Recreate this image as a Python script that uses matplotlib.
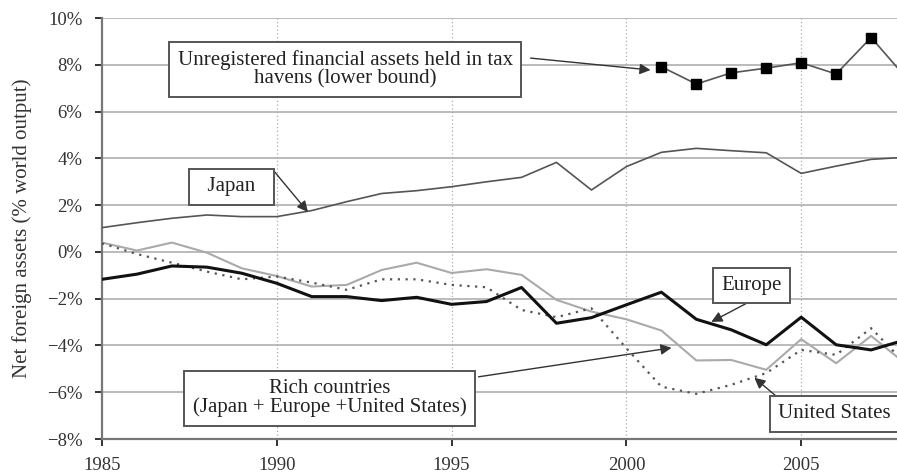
import matplotlib.pyplot as plt

years = list(range(1985, 2009))

japan = [1.04, 1.25, 1.44, 1.58, 1.51, 1.51, 1.77, 2.15, 2.50, 2.62, 2.79, 3.00,
         3.19, 3.83, 2.65, 3.65, 4.26, 4.43, 4.33, 4.24, 3.36, 3.67, 3.96, 4.05]
europe = [-1.17, -0.95, -0.60, -0.65, -0.91, -1.34, -1.91, -1.91, -2.08, -1.94, -2.24, -2.12,
          -1.52, -3.05, -2.81, -2.26, -1.72, -2.88, -3.33, -3.97, -2.79, -3.97, -4.19, -3.75]
rich = [0.40, 0.06, 0.40, -0.03, -0.70, -1.03, -1.48, -1.41, -0.77, -0.46, -0.90, -0.74,
        -0.98, -2.05, -2.55, -2.88, -3.36, -4.64, -4.62, -5.04, -3.73, -4.76, -3.59, -4.80]
usa = [0.37, -0.09, -0.46, -0.84, -1.17, -1.05, -1.31, -1.62, -1.17, -1.17, -1.41, -1.51,
       -2.48, -2.79, -2.41, -4.12, -5.76, -6.07, -5.68, -5.18, -4.19, -4.40, -3.26, -4.80]

haven_years = list(range(2001, 2009))
havens = [7.92, 7.18, 7.66, 7.86, 8.09, 7.61, 9.17, 7.45]

plt.rcParams['font.family'] = ['Liberation Serif', 'DejaVu Serif']

fig = plt.figure(figsize=(8.97, 4.74), dpi=100)
ax = fig.add_axes([0.1137, 0.0738, 0.8863, 0.888])

ax.plot(years, rich, color='#aaaaaa', lw=1.5, zorder=3)
ax.plot(years, usa, color='#555555', lw=1.6, ls=(0, (1, 2.5)), zorder=3)
ax.plot(years, japan, color='#555555', lw=1.2, zorder=3)
ax.plot(years, europe, color='#111111', lw=2.2, zorder=4)
ax.plot(haven_years, havens, color='#555555', lw=1.2, marker='s', ms=7,
        mfc='black', mec='black', zorder=4)

ax.set_xlim(1985, 2007.74)
ax.set_ylim(-8, 10)
ax.set_xticks([1985, 1990, 1995, 2000, 2005])
ax.set_yticks(range(-8, 11, 2))
ax.set_yticklabels(['%d%%' % v if v >= 0 else '\u2212%d%%' % -v for v in range(-8, 11, 2)])
ax.tick_params(labelsize=13.5, colors='#333333', length=5, width=1.4)
ax.tick_params(axis='y', pad=9)
ax.tick_params(axis='x', pad=8)

for v in range(-6, 11, 2):
    ax.axhline(v, color='#bbbbbb', lw=1.4, zorder=1)
for yr in [1990, 1995, 2000, 2005]:
    ax.axvline(yr, color='#aaaaaa', lw=0.9, ls=(0, (1, 2)), zorder=1)

for s in ['top', 'right']:
    ax.spines[s].set_visible(False)
for s in ['left', 'bottom']:
    ax.spines[s].set_color('#777777')
    ax.spines[s].set_linewidth(1.6)

ax.set_ylabel('Net foreign assets (% world output)', fontsize=15, color='#333333')
ax.yaxis.set_label_coords(-0.088, 0.5)

box = dict(boxstyle='square,pad=0.4', fc='white', ec='#555555', lw=1.4)
arrow = dict(arrowstyle='-|>', color='#333333', lw=1.0, mutation_scale=16, shrinkA=0, shrinkB=0)

labels = [
    ('Unregistered financial assets held in tax\nhavens (lower bound)', (1991.96, 7.82), (1997.26, 8.29), (2000.69, 7.78)),
    ('  Japan  ', (1988.71, 2.78), (1989.94, 3.42), (1990.89, 1.71)),
    ('Europe', (2003.57, -1.43), (2003.57, -2.09), (2002.43, -2.99)),
    ('Rich countries\n(Japan + Europe +United States)', (1991.51, -6.26), (1995.77, -5.34), (2001.29, -4.10)),
    ('United States', (2005.96, -6.92), (2004.31, -6.20), (2003.66, -5.38)),
]
for text, pos, start, end in labels:
    ax.annotate('', xy=end, xytext=start, arrowprops=arrow, zorder=5)
    ax.text(pos[0], pos[1], text, ha='center', va='center', fontsize=15,
            color='#222222', bbox=box, zorder=6, linespacing=0.95)

fig.savefig('out.png', dpi=100)
